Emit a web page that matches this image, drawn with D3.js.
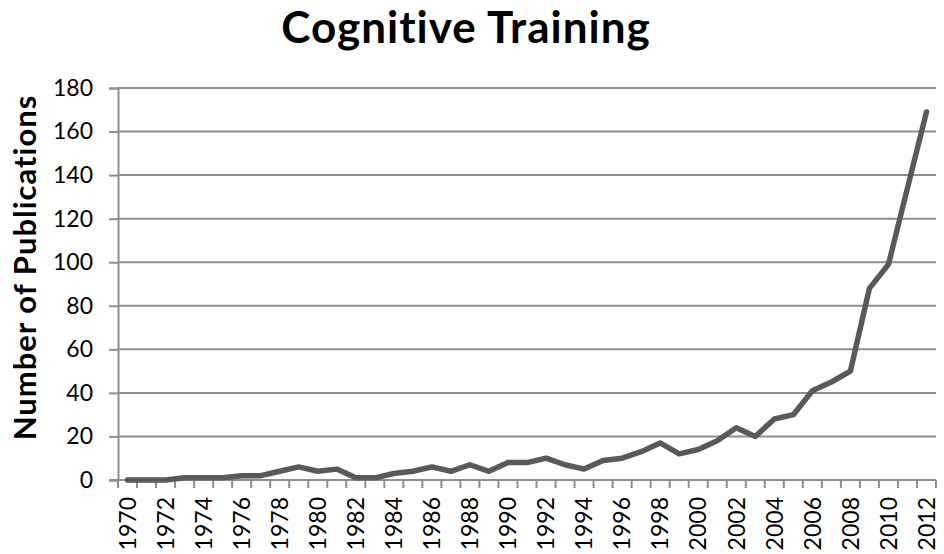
<!DOCTYPE html>
<html>
<head>
<meta charset="utf-8">
<script src="https://cdn.jsdelivr.net/npm/d3@7"></script>
<style>
  html, body { margin: 0; padding: 0; background: #fff; }
  svg { display: block; }
</style>
</head>
<body>
<svg id="chart" width="944" height="554"></svg>
<script>
const years = [1970,1971,1972,1973,1974,1975,1976,1977,1978,1979,
               1980,1981,1982,1983,1984,1985,1986,1987,1988,1989,
               1990,1991,1992,1993,1994,1995,1996,1997,1998,1999,
               2000,2001,2002,2003,2004,2005,2006,2007,2008,2009,
               2010,2011,2012];
const publications = [0,0,0,1,1,1,2,2,4,6,
                      4,5,1,1,3,4,6,4,7,4,
                      8,8,10,7,5,9,10,13,17,12,
                      14,18,24,20,28,30,41,45,50,88,
                      99,134,169];
const yTicks = [0,20,40,60,80,100,120,140,160,180];
const xTickLabels = [1970,1972,1974,1976,1978,1980,1982,1984,1986,1988,1990,
                     1992,1994,1996,1998,2000,2002,2004,2006,2008,2010,2012];
const titleText = "Cognitive Training";
const yAxisTitle = "Number of Publications";

(function () {
const svg = d3.select("#chart");
const pLeft = 118, pRight = 936, pTop = 88, pBottom = 480;
const font = "Lato, 'Liberation Sans', sans-serif";

const x = d3.scaleBand().domain(years).range([pLeft, pRight]).padding(0);
const y = d3.scaleLinear().domain([0, 180]).range([pBottom, pTop]);

// gridlines
svg.append("g").selectAll("line").data(yTicks.filter(d => d > 0)).join("line")
  .attr("x1", pLeft).attr("x2", pRight)
  .attr("y1", d => y(d)).attr("y2", d => y(d))
  .attr("stroke", "#8e8e8e").attr("stroke-width", 2);

// y axis
const yAxis = d3.axisLeft(y).tickValues(yTicks).tickSize(9).tickPadding(16);
const gy = svg.append("g").attr("transform", `translate(${pLeft},0)`).call(yAxis);
gy.select(".domain").attr("stroke", "#8e8e8e").attr("stroke-width", 2);
gy.selectAll(".tick line").attr("stroke", "#8e8e8e").attr("stroke-width", 2);
gy.selectAll(".tick text").attr("font-family", font).attr("font-size", 23).attr("fill", "#000");

// x axis baseline
svg.append("line").attr("x1", pLeft - 9).attr("x2", pRight)
  .attr("y1", pBottom).attr("y2", pBottom)
  .attr("stroke", "#8e8e8e").attr("stroke-width", 2);

// boundary ticks
const bounds = years.map(d => x(d)).concat([pRight]);
svg.append("g").selectAll("line").data(bounds).join("line")
  .attr("x1", d => d).attr("x2", d => d)
  .attr("y1", pBottom).attr("y2", pBottom + 8)
  .attr("stroke", "#8e8e8e").attr("stroke-width", 2);

// x labels
const xAxis = d3.axisBottom(x).tickValues(xTickLabels).tickSize(0).tickPadding(0);
const gx = svg.append("g").attr("transform", `translate(0,${pBottom})`).call(xAxis);
gx.select(".domain").remove();
gx.selectAll(".tick text")
  .attr("font-family", font).attr("font-size", 23).attr("fill", "#000")
  .attr("text-anchor", "end")
  .attr("transform", "translate(0,17) rotate(-90)")
  .attr("x", 0).attr("y", 0).attr("dy", "0.36em");

// line
const line = d3.line().x((d, i) => x(years[i]) + x.bandwidth() / 2).y(d => y(d));
svg.append("path").datum(publications)
  .attr("d", line).attr("fill", "none")
  .attr("stroke", "#595959").attr("stroke-width", 5.5)
  .attr("stroke-linejoin", "round").attr("stroke-linecap", "round");

// title
svg.append("text").attr("x", 466).attr("y", 43)
  .attr("text-anchor", "middle")
  .attr("font-family", font).attr("font-weight", "bold").attr("font-size", 44)
  .attr("letter-spacing", 1)
  .attr("fill", "#000").text(titleText);

// y axis title
svg.append("text")
  .attr("transform", `translate(36,${(95 + 440) / 2}) rotate(-90)`)
  .attr("text-anchor", "middle")
  .attr("font-family", font).attr("font-weight", "bold").attr("font-size", 31)
  .attr("letter-spacing", 1)
  .attr("fill", "#000").text(yAxisTitle);
})();
</script>
</body>
</html>
